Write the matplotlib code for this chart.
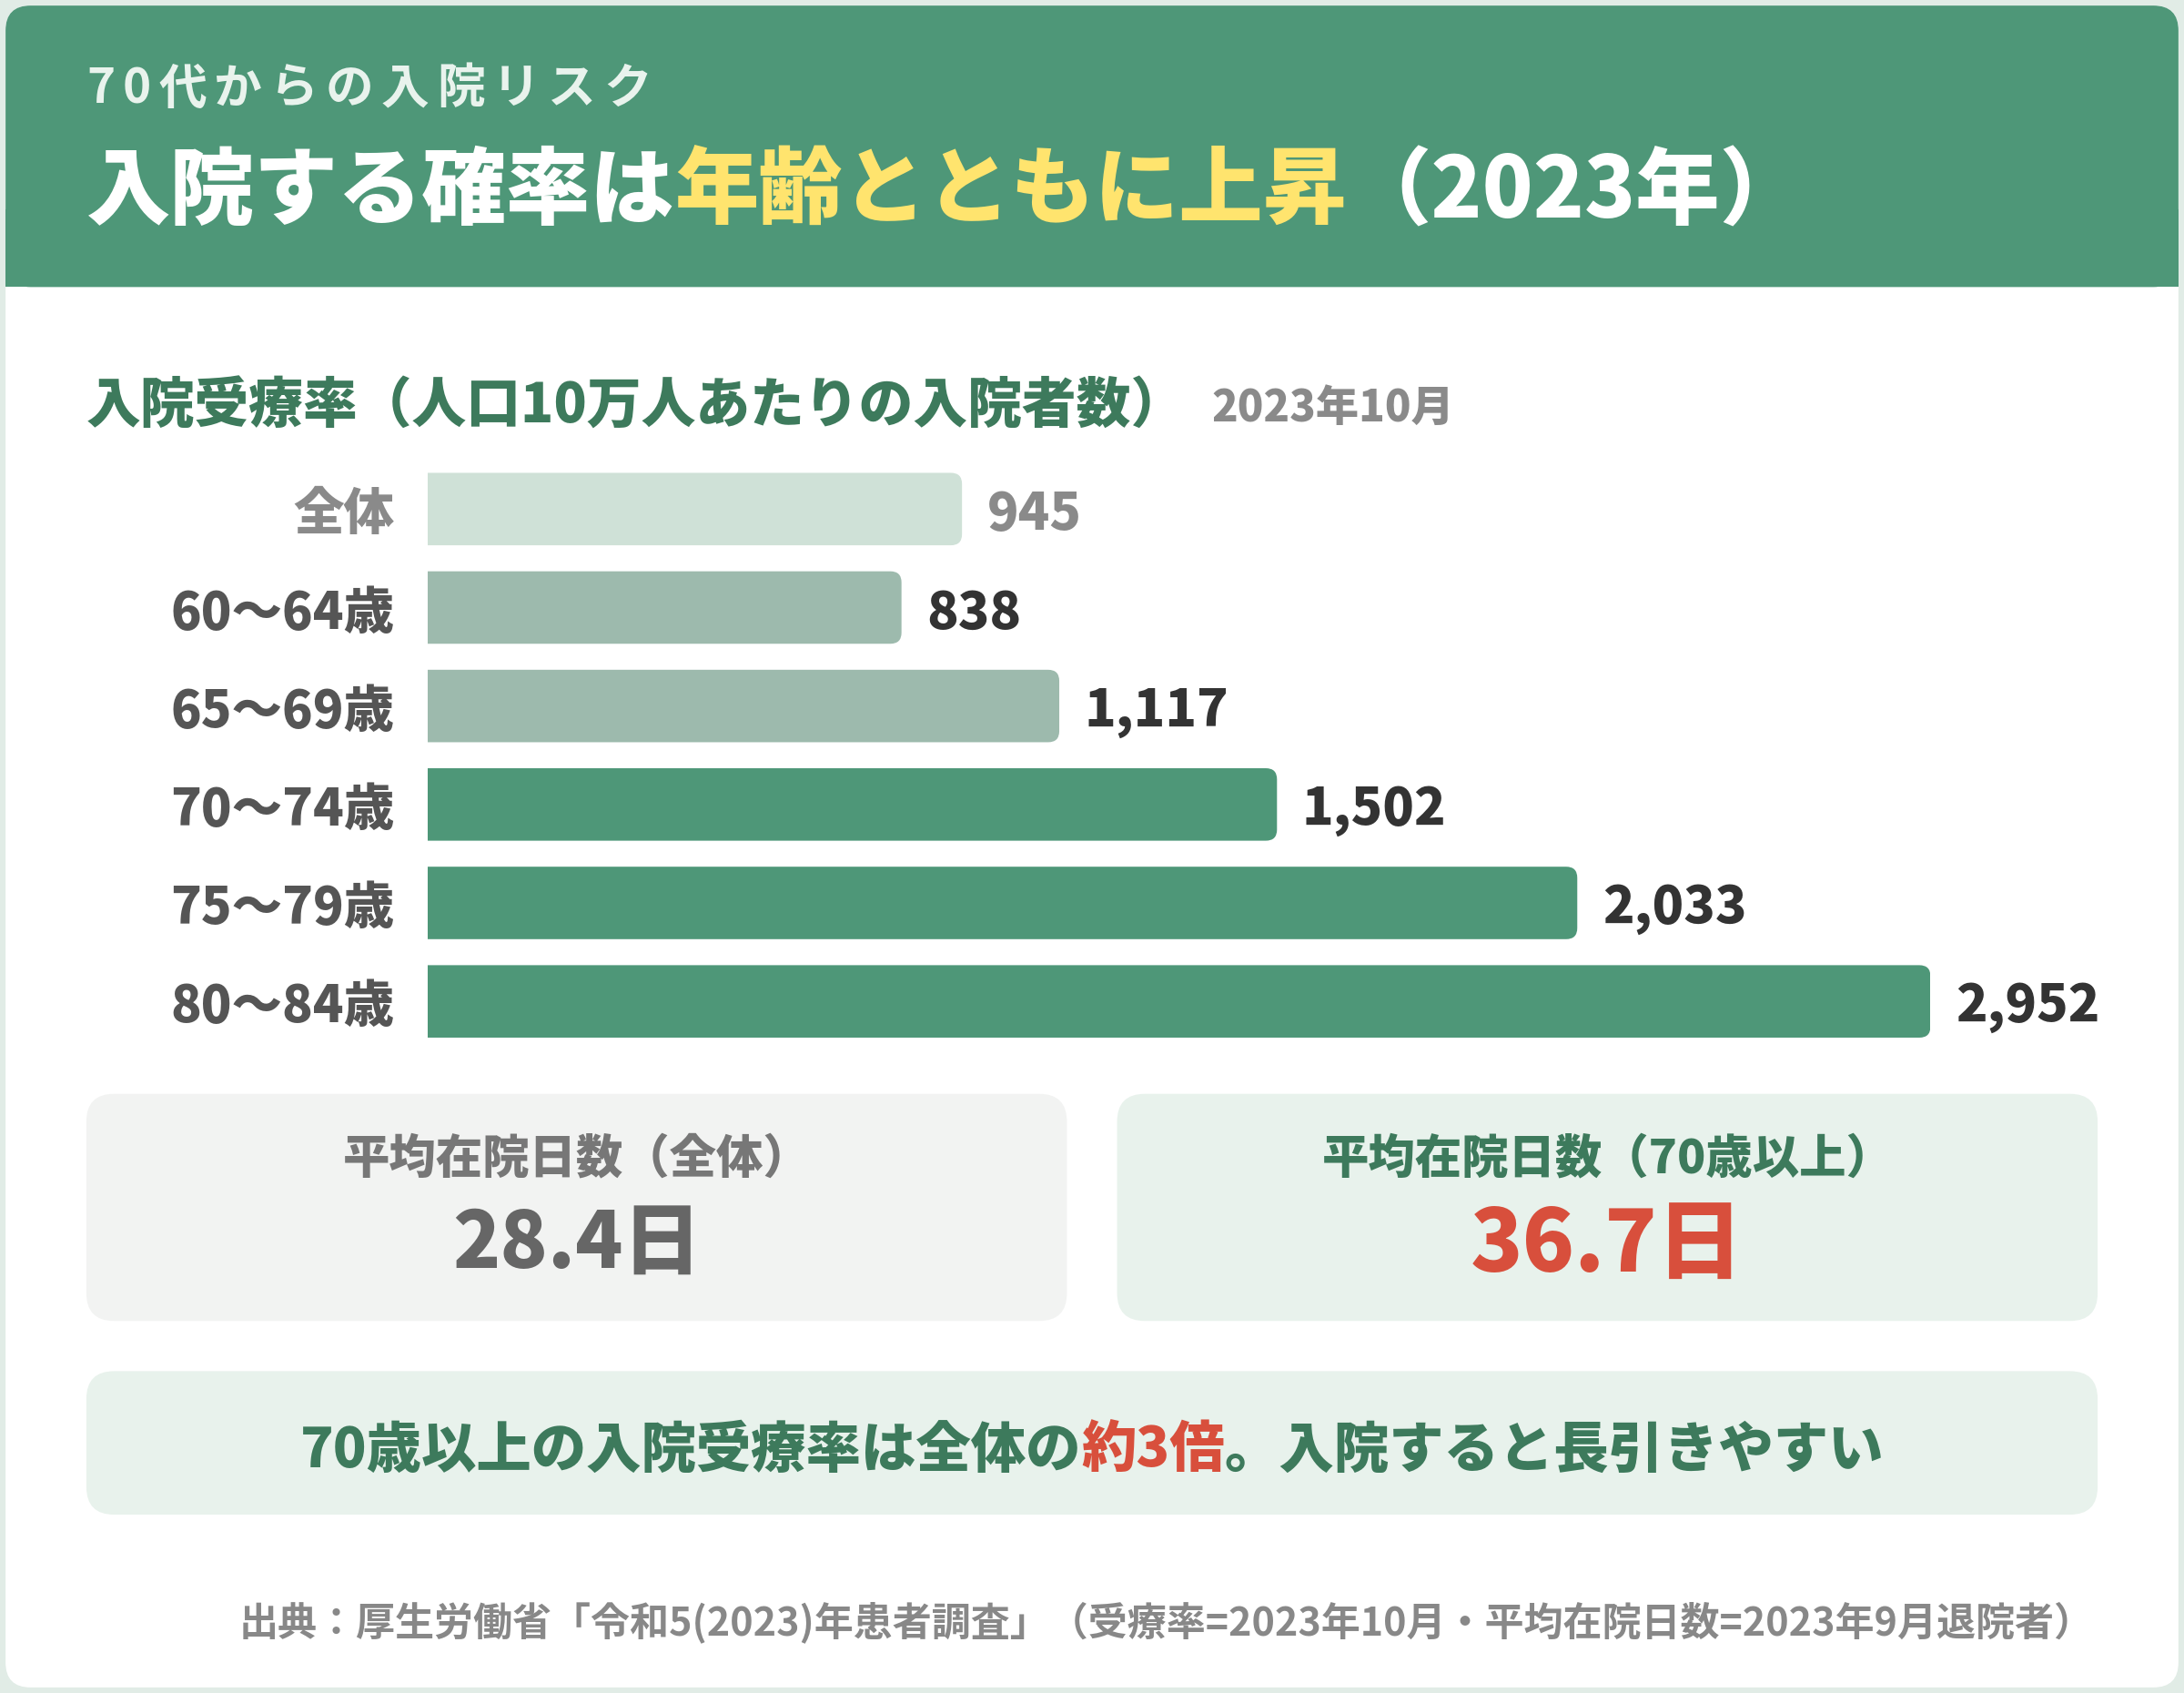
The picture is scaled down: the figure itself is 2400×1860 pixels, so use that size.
import matplotlib
matplotlib.use("Agg")
import matplotlib.pyplot as plt
from matplotlib.patches import FancyBboxPatch, Rectangle

plt.rcParams['font.family'] = ['Noto Sans CJK JP', 'DejaVu Sans']

# --- data ---
categories = ['全体', '60〜64歳', '65〜69歳', '70〜74歳', '75〜79歳', '80〜84歳']
rates = [945, 838, 1117, 1502, 2033, 2952]
stay_all = 28.4
stay_70 = 36.7

# --- styles ---
GREEN = '#4E9778'
DARK_GREEN = '#3D7A5C'
YELLOW = '#FFE46E'
RED = '#D84F3C'
bar_colors = ['#CFE1D7', '#9DBAAD', '#9DBAAD', GREEN, GREEN, GREEN]
label_colors = ['#8A8A8A', '#555555', '#555555', '#555555', '#555555', '#555555']
value_colors = ['#8A8A8A', '#333333', '#333333', '#333333', '#333333', '#333333']
HEAVY = 'black'

# layout is worked out in reference pixels (1568 x 1215), 1 unit = 1.53 px out
W, H = 1568, 1215
fig = plt.figure(figsize=(24, 18.6), dpi=100)
fig.patch.set_facecolor('#E1ECE6')
bg = fig.add_axes([0, 0, 1, 1])
bg.set_xlim(0, W)
bg.set_ylim(H, 0)
bg.axis('off')


def rbox(x0, y0, x1, y1, fc, r=18, z=1):
    p = FancyBboxPatch((x0, y0), x1 - x0, y1 - y0,
                       boxstyle=f"round,pad=0,rounding_size={r}",
                       fc=fc, ec='none', zorder=z)
    bg.add_patch(p)


def draw_runs(x, y, runs, size, ha='left', spacing=0.0, weight=HEAVY):
    """draw coloured text pieces one after another, optional letter spacing"""
    r = fig.canvas.get_renderer()
    scale = bg.transData.transform((1, 0))[0] - bg.transData.transform((0, 0))[0]
    items = []
    for s, c in runs:
        chunks = list(s) if spacing else [s]
        for ch in chunks:
            t = bg.text(0, 0, ch, fontsize=size, fontweight=weight)
            w = t.get_window_extent(r).width / scale
            t.remove()
            items.append((ch, c, w))
    total = sum(w for _, _, w in items) + spacing * (len(items) - 1)
    if ha == 'center':
        x -= total / 2
    elif ha == 'right':
        x -= total
    for ch, c, w in items:
        bg.text(x, y, ch, fontsize=size, fontweight=weight, color=c,
                ha='left', va='center', zorder=5)
        x += w + spacing


# card + header
rbox(4, 4, 1564, 1211, 'white', r=18, z=0)
rbox(4, 4, 1564, 206, GREEN, r=18, z=1)
bg.add_patch(Rectangle((4, 150), 1560, 56, fc=GREEN, ec='none', zorder=1))

draw_runs(62, 64, [('70代からの入院リスク', '#E9F3ED')], 38, spacing=5.5, weight='bold')
draw_runs(62, 138, [('入院する確率は', 'white'), ('年齢とともに上昇', YELLOW),
                    ('（2023年）', 'white')], 66.5)

# section title
draw_runs(62, 292, [('入院受療率（人口10万人あたりの入院者数）', DARK_GREEN)], 43)
draw_runs(870, 293, [('2023年10月', '#8A8A8A')], 34)

# --- bar chart ---
left, right = 307, 1386
top, bottom = 330, 754
px_per_unit = 0.406
xmax = (right - left) / px_per_unit
ax = fig.add_axes([left / W, 1 - bottom / H, (right - left) / W, (bottom - top) / H])
ax.set_xlim(0, xmax)
ax.set_ylim(len(categories) - 0.5, -0.5)
ax.axis('off')
ax.patch.set_alpha(0)

row = (bottom - top) / len(categories)
bar_h = 52 / row
rad_x = 8 / px_per_unit
aspect = (8 / row) / rad_x
for i, (v, c) in enumerate(zip(rates, bar_colors)):
    w = min(v, xmax)  # longest bar is squeezed to leave room for its label
    # start left of the axis so the clipped left end stays square
    ax.add_patch(FancyBboxPatch((-2 * rad_x, i - bar_h / 2), w + 2 * rad_x, bar_h,
                                boxstyle=f"round,pad=0,rounding_size={rad_x}",
                                mutation_aspect=aspect, fc=c, ec='none', clip_on=True))
    ax.text(w + 18 / px_per_unit, i + 0.06, f"{v:,}", fontsize=41, fontweight=HEAVY,
            color=value_colors[i], ha='left', va='center', clip_on=False)
    ax.text(-24 / px_per_unit, i + 0.06, categories[i], fontsize=40, fontweight=HEAVY,
            color=label_colors[i], ha='right', va='center', clip_on=False)

# --- average stay boxes ---
rbox(62, 785, 766, 948, '#F2F3F2', r=20)
rbox(802, 785, 1506, 948, '#E8F2EC', r=20)
draw_runs(414, 832, [('平均在院日数（全体）', '#777777')], 37, ha='center')
draw_runs(414, 893, [(f'{stay_all}日', '#666666')], 62, ha='center')
draw_runs(1154, 832, [('平均在院日数（70歳以上）', DARK_GREEN)], 37, ha='center')
draw_runs(1154, 895, [(f'{stay_70}日', RED)], 68, ha='center')

# --- message box ---
rbox(62, 984, 1506, 1087, '#E8F2EC', r=20)
draw_runs(784, 1041, [('70歳以上の入院受療率は全体の', DARK_GREEN), ('約3倍', RED),
                      ('。入院すると長引きやすい', DARK_GREEN)], 43.5, ha='center')

# source
draw_runs(1503, 1164, [('出典：厚生労働省「令和5(2023)年患者調査」（受療率=2023年10月・平均在院日数=2023年9月退院者）',
                        '#888888')], 31, ha='right', weight='bold')

fig.savefig('out.png', dpi=100, facecolor=fig.get_facecolor())
